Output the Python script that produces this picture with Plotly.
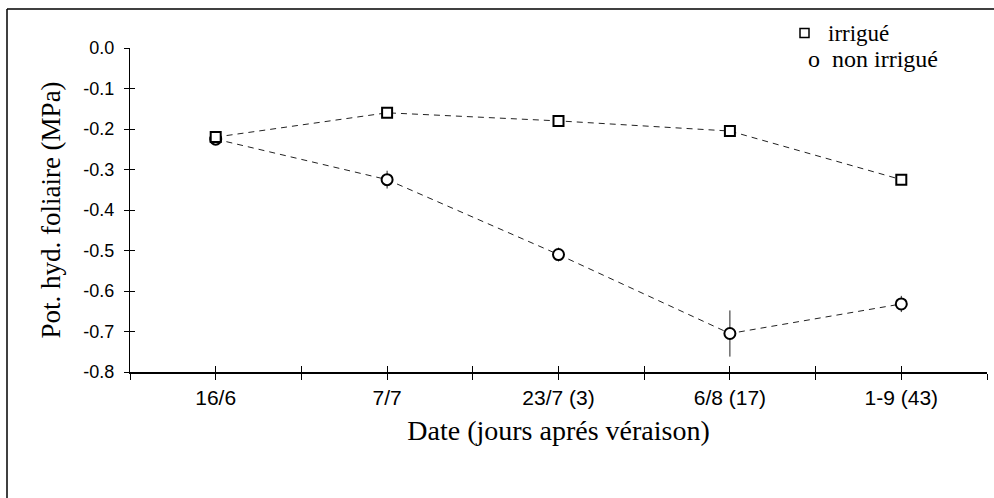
import plotly.graph_objects as go

dates = ["16/6", "7/7", "23/7 (3)", "6/8 (17)", "1-9 (43)"]
irrigue = [-0.22, -0.16, -0.18, -0.205, -0.325]
irrigue_err = [0.008, 0.005, 0.005, 0.005, 0.013]
non_irrigue = [-0.225, -0.325, -0.51, -0.705, -0.632]
non_irrigue_err = [0.006, 0.022, 0.017, 0.057, 0.02]
y_ticks = [0.0, -0.1, -0.2, -0.3, -0.4, -0.5, -0.6, -0.7, -0.8]

W, H = 994, 498
L, R, T, B = 130, 7, 48, 126
pw, ph = W - L - R, H - T - B

def px(x):
    return (x - L) / pw

def py(y):
    return (H - B - y) / ph

xi = list(range(len(dates)))
serif = "Liberation Serif, Times New Roman, serif"
sans = "Liberation Sans, Arial, sans-serif"

fig = go.Figure()
fig.add_trace(go.Scatter(
    x=xi, y=non_irrigue, mode="lines+markers", name="non irrigué",
    line=dict(color="#222", width=1, dash="6px,5px"),
    marker=dict(symbol="circle", size=11, color="white", line=dict(width=2, color="black")),
    error_y=dict(type="data", array=non_irrigue_err, color="#222", thickness=1, width=0),
))
fig.add_trace(go.Scatter(
    x=xi, y=irrigue, mode="lines+markers", name="irrigué",
    line=dict(color="#222", width=1, dash="6px,5px"),
    marker=dict(symbol="square", size=10, color="white", line=dict(width=2, color="black")),
    error_y=dict(type="data", array=irrigue_err, color="#222", thickness=1, width=0),
))
fig.add_trace(go.Scatter(x=[None], y=[None], xaxis="x2", yaxis="y2", showlegend=False))

half_ticks = [i * 0.5 - 0.5 for i in range(11)]
half_text = [dates[int(v)] if float(v).is_integer() else "" for v in half_ticks]

fig.update_layout(
    width=W, height=H,
    margin=dict(l=L, r=R, t=T, b=B, pad=0),
    paper_bgcolor="white", plot_bgcolor="white",
    showlegend=False,
    xaxis=dict(
        range=[-0.5, 4.5], tickmode="array", tickvals=half_ticks, ticktext=half_text,
        ticks="outside", ticklen=6, tickwidth=1, tickcolor="black",
        showline=True, linecolor="black", linewidth=1.5, showgrid=False, zeroline=False,
        tickfont=dict(family=sans, size=21, color="black"),
        title=dict(text="Date (jours aprés véraison)", font=dict(family=serif, size=28, color="black"), standoff=12),
    ),
    yaxis=dict(
        range=[-0.8, 0.0], tickmode="array", tickvals=y_ticks,
        ticktext=[f"{v:.1f}" for v in y_ticks],
        ticks="outside", ticklen=5, tickwidth=1, tickcolor="black",
        showline=True, linecolor="black", linewidth=1, showgrid=False, zeroline=False,
        tickfont=dict(family=sans, size=18, color="black"), ticklabelstandoff=6,
        title=dict(text="Pot. hyd. foliaire (MPa)", font=dict(family=serif, size=27, color="black"), standoff=14),
    ),
    xaxis2=dict(
        range=[-0.5, 4.5], overlaying="x", anchor="y", side="bottom",
        tickmode="array", tickvals=half_ticks, showticklabels=False,
        ticks="inside", ticklen=6, tickwidth=1, tickcolor="black",
        showline=False, showgrid=False, zeroline=False,
    ),
    yaxis2=dict(
        range=[-0.8, 0.0], overlaying="y", anchor="x", side="left",
        tickmode="array", tickvals=y_ticks, showticklabels=False,
        ticks="inside", ticklen=5, tickwidth=1, tickcolor="black",
        showline=False, showgrid=False, zeroline=False,
    ),
)

fig.add_shape(type="line", xref="paper", yref="paper", x0=px(7), x1=px(W + 2), y0=py(9), y1=py(9),
              line=dict(color="black", width=1.5))
fig.add_shape(type="line", xref="paper", yref="paper", x0=px(7), x1=px(7), y0=py(9), y1=py(H + 2),
              line=dict(color="black", width=1.5))

fig.add_shape(type="rect", xref="paper", yref="paper", x0=px(800), x1=px(809), y0=py(37.5), y1=py(28.5),
              line=dict(color="black", width=1.5), fillcolor="white")
fig.add_annotation(xref="paper", yref="paper", x=px(826), y=py(33), text="irrigué", showarrow=False,
                   xanchor="left", yanchor="middle", font=dict(family=serif, size=23, color="black"))
fig.add_annotation(xref="paper", yref="paper", x=px(806), y=py(59), text="o&nbsp;&nbsp;non irrigué", showarrow=False,
                   xanchor="left", yanchor="middle", font=dict(family=serif, size=24, color="black"))

fig.write_html("out.html", config={"displayModeBar": False},
               post_script="document.body.style.margin='0';")
